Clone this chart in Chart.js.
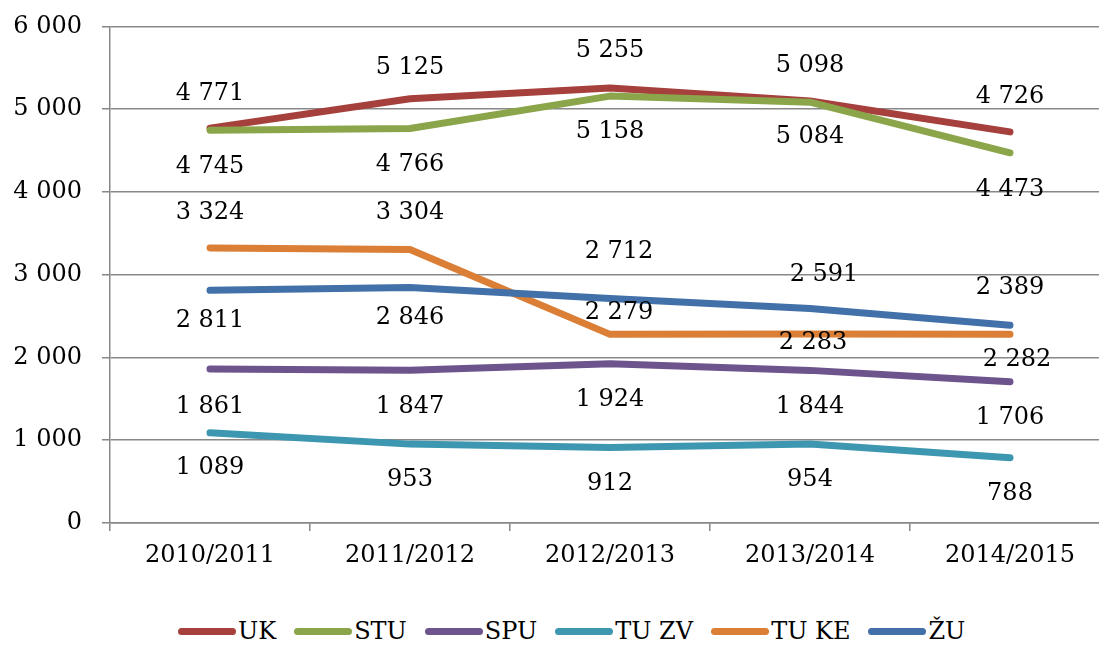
<!DOCTYPE html>
<html lang="sk">
<head>
    <meta charset="UTF-8">
    <title>Študenti</title>
    <script src="https://cdn.jsdelivr.net/npm/chart.js"></script>
    <style>
        html, body { margin: 0; padding: 0; overflow: hidden; background: #fff; }
        #wrap { position: relative; width: 1110px; height: 608px; margin-top: -8px; }
        #legend { position: absolute; left: 178px; top: 617px; display: flex; align-items: center;
                  font-family: "DejaVu Serif", serif; font-size: 24px; color: #000; }
        #legend .item { display: flex; align-items: center; margin-right: 18px; }
        #legend .sw { width: 58px; height: 7px; border-radius: 4px; margin-right: 2px; }
    </style>
</head>
<body>
<div id="wrap"><canvas id="myChart"></canvas></div>
<div id="legend"></div>
<script>
    const years = ['2010/2011', '2011/2012', '2012/2013', '2013/2014', '2014/2015'];
    const uk = [4771, 5125, 5255, 5098, 4726];
    const stu = [4745, 4766, 5158, 5084, 4473];
    const spu = [1861, 1847, 1924, 1844, 1706];
    const tuzv = [1089, 953, 912, 954, 788];
    const tuke = [3324, 3304, 2279, 2283, 2282];
    const zu = [2811, 2846, 2712, 2591, 2389];
    const yTicks = [0, 1000, 2000, 3000, 4000, 5000, 6000];

    const fmt = v => String(v).replace(/\B(?=(\d{3})+(?!\d))/g, ' ');
    const font = '"DejaVu Serif", serif';

    const series = [
        { label: 'UK', data: uk, color: '#A5403D', dy: [-34, -31, -37, -35, -35] },
        { label: 'STU', data: stu, color: '#8BA54B', dy: [36, 36, 36, 35, 37] },
        { label: 'SPU', data: spu, color: '#6E548D', dy: [38, 37, 36, 36, 36] },
        { label: 'TU ZV', data: tuzv, color: '#3D97B0', dy: [35, 36, 36, 36, 36] },
        { label: 'TU KE', data: tuke, color: '#DC7F36', dy: [-35, -37, -22, 9, 26], dx: [0, 0, 9, 3, 7] },
        { label: 'ŽU', data: zu, color: '#4270A8', dy: [30, 30, -47, -34, -38], dx: [0, 0, 9, 14, 0] }
    ];

    // value labels next to the points
    const valueLabels = {
        id: 'valueLabels',
        afterDatasetsDraw(chart) {
            const ctx = chart.ctx;
            ctx.save();
            ctx.font = '24px ' + font;
            ctx.fillStyle = '#000';
            ctx.textAlign = 'center';
            ctx.textBaseline = 'middle';
            chart.data.datasets.forEach((ds, i) => {
                chart.getDatasetMeta(i).data.forEach((pt, j) => {
                    const dx = ds.dx ? ds.dx[j] : 0;
                    ctx.fillText(fmt(ds.data[j]), pt.x + dx, pt.y + ds.dy[j]);
                });
            });
            ctx.restore();
        }
    };

    const ctx = document.getElementById('myChart').getContext('2d');
    const chart = new Chart(ctx, {
        type: 'line',
        data: {
            labels: years,
            datasets: series.map((s, i) => ({
                label: s.label,
                data: s.data,
                borderColor: s.color,
                backgroundColor: s.color,
                borderWidth: 7,
                borderCapStyle: 'round',
                borderJoinStyle: 'round',
                pointRadius: 0,
                tension: 0,
                order: series.length - i,
                dy: s.dy,
                dx: s.dx
            }))
        },
        options: {
            responsive: true,
            maintainAspectRatio: false,
            animation: false,
            layout: { padding: 0 },
            plugins: { legend: { display: false }, tooltip: { enabled: false } },
            scales: {
                x: {
                    offset: true,
                    grid: { display: true, drawOnChartArea: false, offset: true, tickLength: 8, color: '#888', lineWidth: 1.5 },
                    border: { color: '#888', width: 1.5 },
                    ticks: { font: { family: font, size: 24 }, color: '#000', padding: 10, maxRotation: 0 },
                    afterFit: s => { s.height = 77; }
                },
                y: {
                    min: 0, max: 6000,
                    afterBuildTicks: s => { s.ticks = yTicks.map(v => ({ value: v })); },
                    grid: { color: '#888', lineWidth: 1.5, tickLength: 8 },
                    border: { color: '#888', width: 1.5 },
                    ticks: { font: { family: font, size: 24 }, color: '#000', padding: 20, callback: v => fmt(v) },
                    afterFit: s => { s.width = 110; }
                }
            }
        },
        plugins: [valueLabels]
    });

    const legend = document.getElementById('legend');
    series.forEach(s => {
        const item = document.createElement('div');
        item.className = 'item';
        item.innerHTML = '<span class="sw" style="background:' + s.color + '"></span><span>' + s.label + '</span>';
        legend.appendChild(item);
    });
</script>
</body>
</html>
